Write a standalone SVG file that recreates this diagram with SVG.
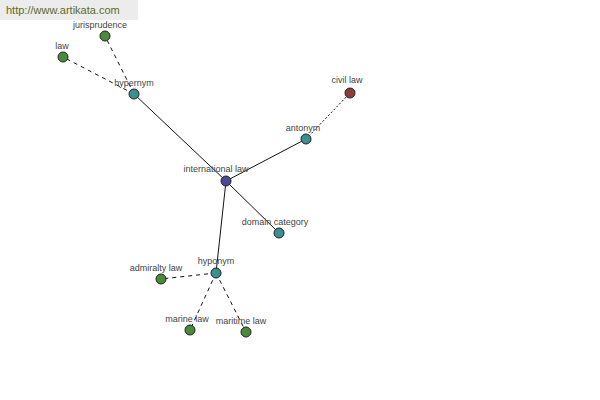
<svg xmlns="http://www.w3.org/2000/svg" width="600" height="400" viewBox="0 0 600 400">
<style>
text{font-family:"Liberation Sans",Arial,sans-serif;font-size:9px;fill:#444;text-anchor:middle}
.n{stroke:#222;stroke-width:1}
.root{fill:#4a4a98}
.rel{fill:#3a8f8f}
.leaf{fill:#4a8a3c}
.ant{fill:#8c3c3c}
.s{stroke:#111;stroke-width:1;fill:none}
.d{stroke:#111;stroke-width:1;stroke-dasharray:4,4;fill:none}
.o{stroke:#111;stroke-width:1;stroke-dasharray:2,2;fill:none}
</style>
<rect width="600" height="400" fill="#fff"/>
<g id="watermark">
<rect x="0" y="0" width="138" height="20" fill="#ececec"/>
<text x="6" y="14" style="text-anchor:start;font-size:11px;fill:#5b6b2a">http://www.artikata.com</text>
</g>
<g id="connectors">
<line class="s" x1="226" y1="181" x2="134" y2="94"/>
<line class="s" x1="226" y1="181" x2="306" y2="139"/>
<line class="s" x1="226" y1="181" x2="279" y2="233"/>
<line class="s" x1="226" y1="181" x2="216" y2="273"/>
<line class="d" x1="134" y1="94" x2="63" y2="57"/>
<line class="d" x1="134" y1="94" x2="105" y2="36"/>
<line class="o" x1="306" y1="139" x2="350" y2="93"/>
<line class="d" x1="216" y1="273" x2="161" y2="279"/>
<line class="d" x1="216" y1="273" x2="190" y2="330"/>
<line class="d" x1="216" y1="273" x2="246" y2="332"/>
</g>
<g id="international-law"><circle class="n root" cx="226" cy="181" r="5"/><text x="216" y="172">international law</text></g>
<g id="hypernym"><circle class="n rel" cx="134" cy="94" r="5"/><text x="134" y="86">hypernym</text></g>
<g id="law"><circle class="n leaf" cx="63" cy="57" r="5"/><text x="62" y="49">law</text></g>
<g id="jurisprudence"><circle class="n leaf" cx="105" cy="36" r="5"/><text x="100" y="28">jurisprudence</text></g>
<g id="antonym"><circle class="n rel" cx="306" cy="139" r="5"/><text x="303" y="131">antonym</text></g>
<g id="civil-law"><circle class="n ant" cx="350" cy="93" r="5"/><text x="347" y="83">civil law</text></g>
<g id="domain-category"><circle class="n rel" cx="279" cy="233" r="5"/><text x="275" y="225">domain category</text></g>
<g id="hyponym"><circle class="n rel" cx="216" cy="273" r="5"/><text x="216" y="264">hyponym</text></g>
<g id="admiralty-law"><circle class="n leaf" cx="161" cy="279" r="5"/><text x="156" y="271">admiralty law</text></g>
<g id="marine-law"><circle class="n leaf" cx="190" cy="330" r="5"/><text x="187" y="322">marine law</text></g>
<g id="maritime-law"><circle class="n leaf" cx="246" cy="332" r="5"/><text x="241" y="324">maritime law</text></g>
</svg>
